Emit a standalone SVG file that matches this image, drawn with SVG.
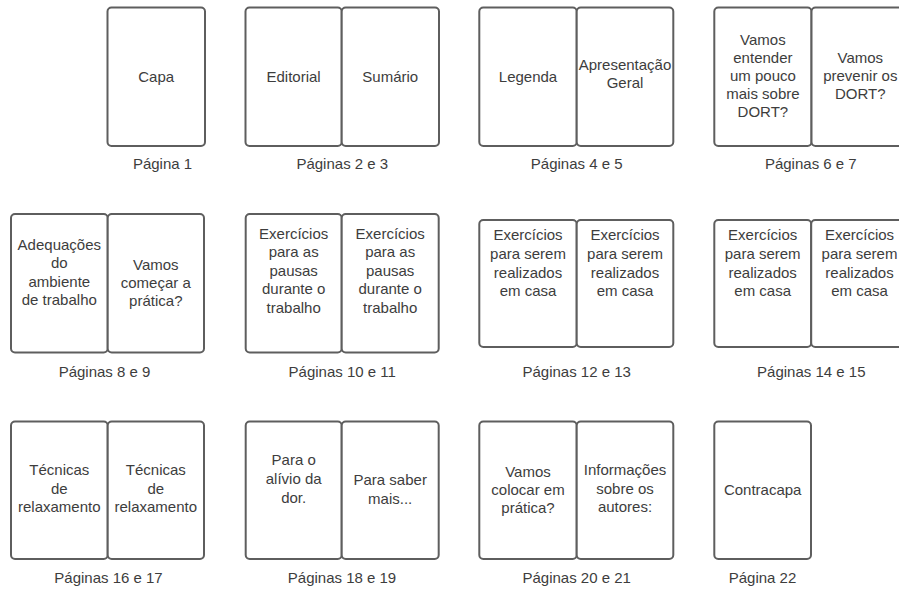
<svg xmlns="http://www.w3.org/2000/svg" width="899" height="589" viewBox="0 0 899 589">
<style>
.pg{fill:#ffffff;stroke:#5e5e5e;stroke-width:2}
text{font-family:"Liberation Sans",Arial,sans-serif;font-size:15px;fill:#3d3d3d;text-anchor:middle}
</style>
<rect width="899" height="589" fill="#ffffff"/>
<g id="connectors"></g>

<!-- Row 1 -->
<g id="p1">
<rect class="pg" x="107.5" y="7.5" width="97.5" height="138.5" rx="4"/>
<text x="156.2" y="82">Capa</text>
<text x="162.5" y="168.5">Página 1</text>
</g>
<g id="p2-3">
<rect class="pg" x="245.5" y="7.5" width="96.2" height="138.5" rx="4"/>
<rect class="pg" x="341.7" y="7.5" width="97.3" height="138.5" rx="4"/>
<text x="293.6" y="82">Editorial</text>
<text x="390.3" y="82">Sumário</text>
<text x="342.3" y="168.5">Páginas 2 e 3</text>
</g>
<g id="p4-5">
<rect class="pg" x="479.3" y="7.5" width="97.4" height="138.5" rx="4"/>
<rect class="pg" x="576.7" y="7.5" width="96.6" height="138.5" rx="4"/>
<text x="528" y="82">Legenda</text>
<text x="625" y="70">Apresentação</text>
<text x="625" y="88">Geral</text>
<text x="576.7" y="168.5">Páginas 4 e 5</text>
</g>
<g id="p6-7">
<rect class="pg" x="714.3" y="7.5" width="97.2" height="138.5" rx="4"/>
<rect class="pg" x="811.5" y="7.5" width="97.5" height="138.5" rx="4"/>
<text x="762.9" y="45.3">Vamos</text>
<text x="762.9" y="63.1">entender</text>
<text x="762.9" y="80.9">um pouco</text>
<text x="762.9" y="98.7">mais sobre</text>
<text x="762.9" y="116.5">DORT?</text>
<text x="860.3" y="63.1">Vamos</text>
<text x="860.3" y="80.9">prevenir os</text>
<text x="860.3" y="98.7">DORT?</text>
<text x="810.8" y="168.5">Páginas 6 e 7</text>
</g>

<!-- Row 2 -->
<g id="p8-9">
<rect class="pg" x="11" y="214" width="96.7" height="138.5" rx="4"/>
<rect class="pg" x="107.7" y="214" width="96.3" height="138.5" rx="4"/>
<text x="59.3" y="250">Adequações</text>
<text x="59.3" y="268.3">do</text>
<text x="59.3" y="286.6">ambiente</text>
<text x="59.3" y="304.9">de trabalho</text>
<text x="155.8" y="270">Vamos</text>
<text x="155.8" y="288">começar a</text>
<text x="155.8" y="306">prática?</text>
<text x="104.5" y="376.7">Páginas 8 e 9</text>
</g>
<g id="p10-11">
<rect class="pg" x="245.7" y="214" width="96" height="138.5" rx="4"/>
<rect class="pg" x="341.7" y="214" width="97" height="138.5" rx="4"/>
<text x="293.7" y="238.5">Exercícios</text>
<text x="293.7" y="257">para as</text>
<text x="293.7" y="275.5">pausas</text>
<text x="293.7" y="294">durante o</text>
<text x="293.7" y="312.5">trabalho</text>
<text x="390.2" y="238.5">Exercícios</text>
<text x="390.2" y="257">para as</text>
<text x="390.2" y="275.5">pausas</text>
<text x="390.2" y="294">durante o</text>
<text x="390.2" y="312.5">trabalho</text>
<text x="342.2" y="376.7">Páginas 10 e 11</text>
</g>
<g id="p12-13">
<rect class="pg" x="479.3" y="220" width="97.4" height="127" rx="4"/>
<rect class="pg" x="576.7" y="220" width="96.6" height="127" rx="4"/>
<text x="528" y="240.3">Exercícios</text>
<text x="528" y="259">para serem</text>
<text x="528" y="277.7">realizados</text>
<text x="528" y="296.3">em casa</text>
<text x="625" y="240.3">Exercícios</text>
<text x="625" y="259">para serem</text>
<text x="625" y="277.7">realizados</text>
<text x="625" y="296.3">em casa</text>
<text x="576.7" y="376.7">Páginas 12 e 13</text>
</g>
<g id="p14-15">
<rect class="pg" x="714.3" y="220" width="96.9" height="127" rx="4"/>
<rect class="pg" x="811.2" y="220" width="97" height="127" rx="4"/>
<text x="762.7" y="240.3">Exercícios</text>
<text x="762.7" y="259">para serem</text>
<text x="762.7" y="277.7">realizados</text>
<text x="762.7" y="296.3">em casa</text>
<text x="859.5" y="240.3">Exercícios</text>
<text x="859.5" y="259">para serem</text>
<text x="859.5" y="277.7">realizados</text>
<text x="859.5" y="296.3">em casa</text>
<text x="811.3" y="376.7">Páginas 14 e 15</text>
</g>

<!-- Row 3 -->
<g id="p16-17">
<rect class="pg" x="11" y="421.5" width="96.7" height="137.5" rx="4"/>
<rect class="pg" x="107.7" y="421.5" width="96.3" height="137.5" rx="4"/>
<text x="59.3" y="475">Técnicas</text>
<text x="59.3" y="493.5">de</text>
<text x="59.3" y="512">relaxamento</text>
<text x="155.8" y="475">Técnicas</text>
<text x="155.8" y="493.5">de</text>
<text x="155.8" y="512">relaxamento</text>
<text x="108.5" y="583.3">Páginas 16 e 17</text>
</g>
<g id="p18-19">
<rect class="pg" x="245.7" y="421.5" width="96" height="137.5" rx="4"/>
<rect class="pg" x="341.7" y="421.5" width="97" height="137.5" rx="4"/>
<text x="293.7" y="465">Para o</text>
<text x="293.7" y="483.8">alívio da</text>
<text x="293.7" y="502.5">dor.</text>
<text x="390.2" y="485">Para saber</text>
<text x="390.2" y="503.5">mais...</text>
<text x="342" y="583.3">Páginas 18 e 19</text>
</g>
<g id="p20-21">
<rect class="pg" x="479.3" y="421.5" width="97.4" height="137.5" rx="4"/>
<rect class="pg" x="576.7" y="421.5" width="96.6" height="137.5" rx="4"/>
<text x="528" y="476.5">Vamos</text>
<text x="528" y="495">colocar em</text>
<text x="528" y="513.3">prática?</text>
<text x="625" y="475">Informações</text>
<text x="625" y="493.8">sobre os</text>
<text x="625" y="512.3">autores:</text>
<text x="576.7" y="583.3">Páginas 20 e 21</text>
</g>
<g id="p22">
<rect class="pg" x="714.3" y="421.5" width="96.7" height="137.5" rx="4"/>
<text x="762.7" y="495">Contracapa</text>
<text x="762.5" y="583.3">Página 22</text>
</g>
</svg>
